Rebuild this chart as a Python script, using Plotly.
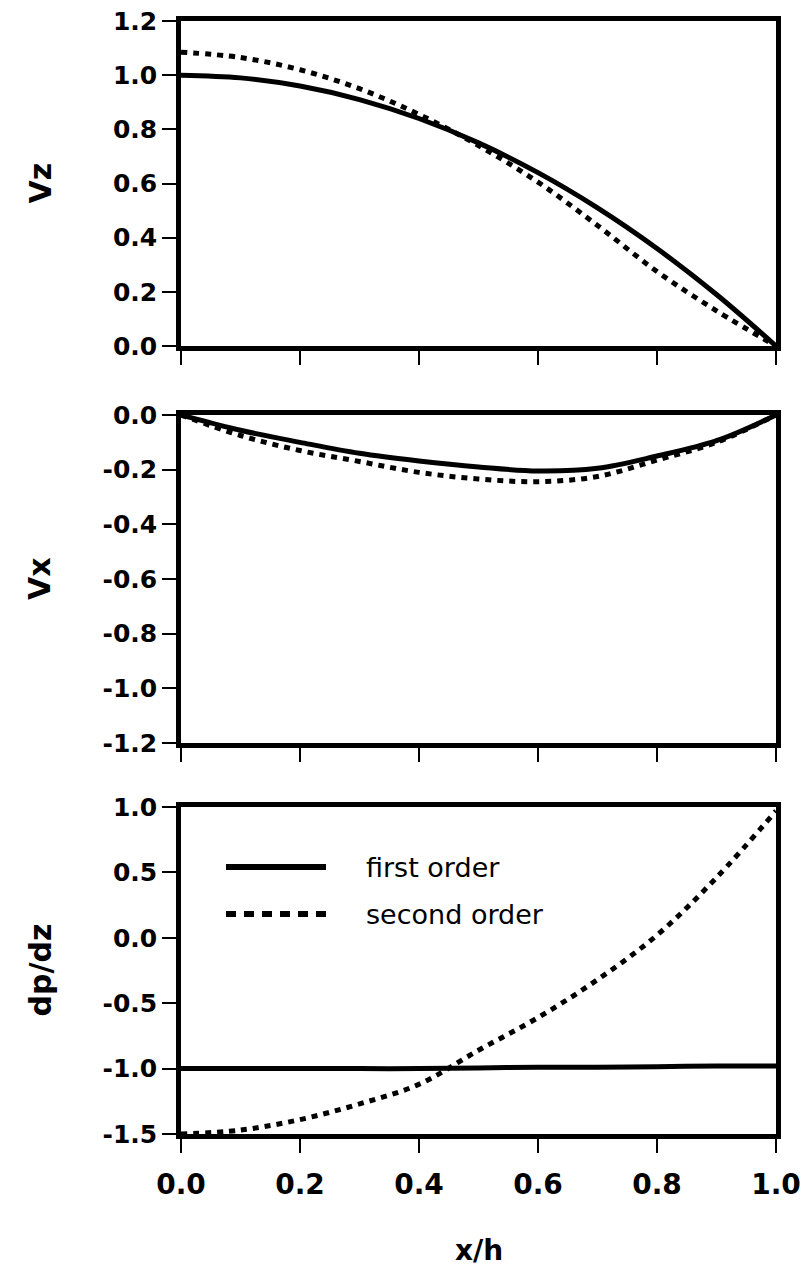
import plotly.graph_objects as go

# ---- data ----
x_h = [0.0, 0.1, 0.2, 0.3, 0.4, 0.5, 0.6, 0.7, 0.8, 0.9, 1.0]

vz_first = [1.00, 0.99, 0.96, 0.91, 0.84, 0.75, 0.64, 0.51, 0.36, 0.19, 0.00]
vz_second = [1.085, 1.065, 1.02, 0.95, 0.855, 0.74, 0.605, 0.445, 0.275, 0.13, 0.00]

vx_first = [0.0, -0.056, -0.10, -0.14, -0.168, -0.19, -0.205, -0.195, -0.15, -0.094, 0.0]
vx_second = [0.0, -0.075, -0.13, -0.17, -0.21, -0.234, -0.244, -0.225, -0.165, -0.10, 0.0]

dp_first = [-1.0, -1.0, -1.0, -1.0, -1.0, -0.995, -0.99, -0.99, -0.985, -0.98, -0.98]
dp_second = [-1.5, -1.47, -1.39, -1.27, -1.12, -0.86, -0.61, -0.32, 0.02, 0.46, 0.97]

x_ticks = [0.0, 0.2, 0.4, 0.6, 0.8, 1.0]
x_ticklabels = ["0.0", "0.2", "0.4", "0.6", "0.8", "1.0"]
vz_ticks = [0.0, 0.2, 0.4, 0.6, 0.8, 1.0, 1.2]
vx_ticks = [0.0, -0.2, -0.4, -0.6, -0.8, -1.0, -1.2]
dp_ticks = [1.0, 0.5, 0.0, -0.5, -1.0, -1.5]

panel_titles = ["Vz", "Vx", "dp/dz"]
legend_names = ["first order", "second order"]

W, H = 804, 1276
FONT = "DejaVu Sans, Arial, sans-serif"

fig = go.Figure()

series = [
    (vz_first, vz_second, "x", "y"),
    (vx_first, vx_second, "x2", "y2"),
    (dp_first, dp_second, "x3", "y3"),
]
for first, second, xa, ya in series:
    fig.add_trace(go.Scatter(x=x_h, y=first, mode="lines", xaxis=xa, yaxis=ya,
                             line=dict(color="black", width=5, shape="spline"),
                             showlegend=False))
    fig.add_trace(go.Scatter(x=x_h, y=second, mode="lines", xaxis=xa, yaxis=ya,
                             line=dict(color="black", width=5, shape="spline", dash="6px,6px"),
                             showlegend=False))

x_dom = [181 / W, 776 / W]
y_doms = [
    [1 - 346 / H, 1 - 21 / H],
    [1 - 743 / H, 1 - 415 / H],
    [1 - 1134 / H, 1 - 807 / H],
]

axis_common = dict(showline=True, linewidth=4.5, linecolor="black", mirror=True,
                   ticks="outside", ticklen=14, tickwidth=2, tickcolor="black",
                   showgrid=False, zeroline=False, automargin=False)

yranges = [[0, 1.2], [-1.2, 0], [-1.5, 1.0]]
yticks = [vz_ticks, vx_ticks, dp_ticks]

layout = dict(
    template="none",
    width=W, height=H, margin=dict(l=0, r=0, t=0, b=0, autoexpand=False),
    paper_bgcolor="white", plot_bgcolor="white",
    font=dict(family=FONT, color="black"),
    showlegend=False,
)
for i in range(3):
    xs = "xaxis" if i == 0 else f"xaxis{i+1}"
    ys = "yaxis" if i == 0 else f"yaxis{i+1}"
    ya_name = "y" if i == 0 else f"y{i+1}"
    xa_name = "x" if i == 0 else f"x{i+1}"
    layout[xs] = dict(axis_common, domain=x_dom, range=[0, 1], anchor=ya_name,
                      tickvals=x_ticks, ticktext=x_ticklabels,
                      showticklabels=(i == 2), ticklabelstandoff=8,
                      tickfont=dict(size=28, family=FONT, weight="bold"))
    layout[ys] = dict(axis_common, domain=y_doms[i], range=yranges[i], anchor=xa_name,
                      tickvals=yticks[i], ticktext=[f"{v:.1f}" for v in yticks[i]],
                      tickfont=dict(size=25, family=FONT, weight="bold"))
fig.update_layout(**layout)

# axis titles
title_y = [(y_doms[i][0] + y_doms[i][1]) / 2 for i in range(3)]
for i, t in enumerate(panel_titles):
    fig.add_annotation(text=t, xref="paper", yref="paper", x=40 / W, y=title_y[i],
                       textangle=-90, showarrow=False, xanchor="center", yanchor="middle",
                       font=dict(size=30, family=FONT, weight="bold"))
fig.add_annotation(text="x/h", xref="paper", yref="paper", x=(x_dom[0] + x_dom[1]) / 2,
                   y=1 - 1250 / H, showarrow=False, xanchor="center", yanchor="middle",
                   font=dict(size=28, family=FONT, weight="bold"))

# manual legend inside the bottom panel
leg_y = [1 - 867 / H, 1 - 914 / H]
leg_dash = ["solid", "10px,8px"]
for name, ly, d in zip(legend_names, leg_y, leg_dash):
    fig.add_shape(type="line", xref="paper", yref="paper", x0=226 / W, x1=326 / W,
                  y0=ly, y1=ly, line=dict(color="black", width=6, dash=d))
    fig.add_annotation(text=name, xref="paper", yref="paper", x=364 / W, y=ly,
                       showarrow=False, xanchor="left", yanchor="middle",
                       font=dict(size=27, family=FONT))

fig.write_html("out.html")
